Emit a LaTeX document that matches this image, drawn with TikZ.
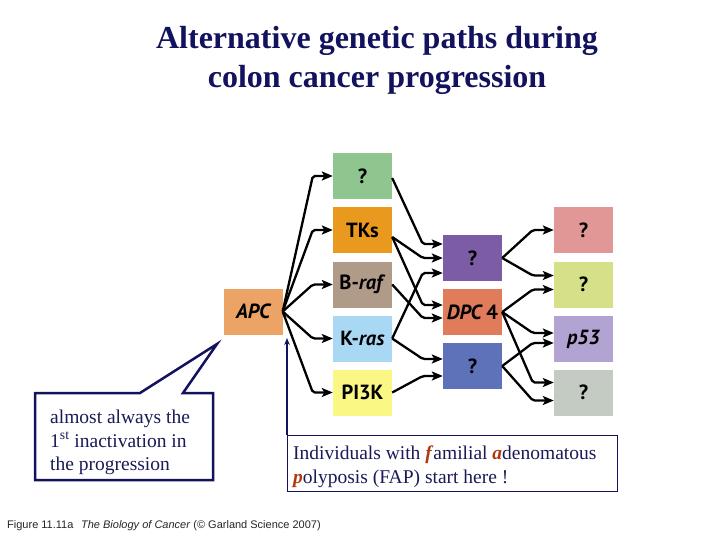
\documentclass[tikz,border=0pt]{standalone}
\usepackage{fontspec}
\setmainfont{Liberation Serif}
\newfontfamily\capfont{Liberation Sans}
\newfontfamily\boxfont{PT Sans}
\usetikzlibrary{arrows.meta}
\definecolor{navy}{HTML}{12125E}
\definecolor{txtnavy}{HTML}{1A1A58}
\definecolor{fapred}{HTML}{B0380E}
\definecolor{cAPC}{HTML}{EBA466}
\definecolor{cGreen}{HTML}{8FC58F}
\definecolor{cTKs}{HTML}{E99A1E}
\definecolor{cBraf}{HTML}{B09A88}
\definecolor{cKras}{HTML}{A9D8F5}
\definecolor{cPI}{HTML}{FBF785}
\definecolor{cPurple}{HTML}{7D5CA6}
\definecolor{cDPC}{HTML}{E07B5C}
\definecolor{cBlue}{HTML}{5E72B9}
\definecolor{cPink}{HTML}{E29797}
\definecolor{cYG}{HTML}{D5E089}
\definecolor{cpf}{HTML}{B3A3D3}
\definecolor{cGray}{HTML}{C3CBC3}
\begin{document}
\begin{tikzpicture}[x=1pt,y=-1pt,
  gbox/.style={minimum width=59pt,minimum height=46pt,inner sep=0pt,
    font=\boxfont\bfseries\fontsize{20.5}{22}\selectfont,text=black},
  arr/.style={line width=2.3pt,rounded corners=2pt,
    -{Stealth[length=11pt,width=9pt,inset=2.5pt]}},
  calltext/.style={anchor=base west,inner sep=0pt,text=txtnavy,
    font=\fontsize{19.5}{22}\selectfont},
  titletext/.style={anchor=base,inner sep=0pt,text=navy,
    font=\bfseries\fontsize{32}{36}\selectfont}]
\useasboundingbox (0,0) rectangle (720,540);
\fill[white] (0,0) rectangle (720,540);

% title
\node[titletext] (t1) at (377,49) {Alternative genetic paths during};
\node[titletext] (t2) at (377,88) {colon cancer progression};

% boxes
\node[gbox,fill=cAPC] (apc) at (253,311.5) {\itshape APC};
\node[gbox,fill=cGreen] (g1) at (362.5,176) {?};
\node[gbox,fill=cTKs] (tks) at (362.5,230) {TKs};
\node[gbox,fill=cBraf] (braf) at (362.5,284.5) {B-\textit{raf}};
\node[gbox,fill=cKras] (kras) at (362.5,338.5) {K-\textit{ras}};
\node[gbox,fill=cPI] (pi3k) at (362.5,392.5) {PI3K};
\node[gbox,fill=cPurple] (q2) at (472.5,258) {?};
\node[gbox,fill=cDPC] (dpc) at (472.5,312) {\textit{DPC}\,4};
\node[gbox,fill=cBlue] (q3) at (472.5,366) {?};
\node[gbox,fill=cPink] (q4) at (583.5,230) {?};
\node[gbox,fill=cYG] (q5) at (583.5,284.5) {?};
\node[gbox,fill=cpf] (p53) at (583.5,339) {\textit{p53}};
\node[gbox,fill=cGray] (q6) at (583.5,392.5) {?};

% APC -> column 1
\foreach \t in {g1,tks,braf,kras,pi3k}
  \draw[arr] (apc.east) -- ([xshift=-20pt]\t.west) -- (\t.west);

% column 1 -> column 2
\draw[arr] ([yshift=-2pt]g1.east) -- ([xshift=-20pt,yshift=14pt]q2.west) -- ([yshift=14pt]q2.west);
\draw[arr] ([yshift=-7pt]tks.east) -- ([xshift=-20pt]q2.west) -- (q2.west);
\draw[arr] (kras.east) -- ([xshift=-20pt,yshift=-15pt]q2.west) -- ([yshift=-15pt]q2.west);
\draw[arr] ([yshift=-7pt]tks.east) -- ([xshift=-20pt,yshift=7pt]dpc.west) -- ([yshift=7pt]dpc.west);
\draw[arr] (braf.east) -- ([xshift=-20pt,yshift=-6pt]dpc.west) -- ([yshift=-6pt]dpc.west);
\draw[arr] (kras.east) -- ([xshift=-20pt,yshift=7pt]q3.west) -- ([yshift=7pt]q3.west);
\draw[arr] (pi3k.east) -- ([xshift=-20pt,yshift=-10pt]q3.west) -- ([yshift=-10pt]q3.west);

% column 2 -> column 3
\draw[arr] (q2.east) -- ([xshift=-21pt]q4.west) -- (q4.west);
\draw[arr] (q2.east) -- ([xshift=-21pt,yshift=9pt]q5.west) -- ([yshift=9pt]q5.west);
\draw[arr] (dpc.east) -- ([xshift=-21pt,yshift=-5pt]q5.west) -- ([yshift=-5pt]q5.west);
\draw[arr] (dpc.east) -- ([xshift=-21pt,yshift=6pt]p53.west) -- ([yshift=6pt]p53.west);
\draw[arr] (dpc.east) -- ([xshift=-21pt,yshift=10pt]q6.west) -- ([yshift=10pt]q6.west);
\draw[arr] (q3.east) -- ([xshift=-21pt,yshift=-4pt]p53.west) -- ([yshift=-4pt]p53.west);
\draw[arr] (q3.east) -- ([xshift=-21pt,yshift=-8pt]q6.west) -- ([yshift=-8pt]q6.west);

% left callout
\coordinate (ctip) at (217,344);
\draw[navy,line width=2.5pt,fill=white,line join=miter]
  (35,393) -- (140,393) -- (ctip) -- (183,393) -- (213,393) -- (213,480) -- (35,480) -- cycle;
\node[calltext] (c1) at (50,423) {almost always the};
\node[calltext] (c2) at (50,447) {1\textsuperscript{st} inactivation in};
\node[calltext] (c3) at (50,470) {the progression};

% FAP box
\node[draw=navy,line width=1pt,minimum width=330pt,minimum height=56pt,
  inner sep=0pt,anchor=north west] (fap) at (287,435) {};
\coordinate (faptip) at (287,338);
\draw[navy,line width=1.5pt,-{Stealth[length=7pt,width=5.5pt]}] (fap.north west) -- (faptip);
\node[calltext] (f1) at (293,459) {Individuals with \textcolor{fapred}{\textbf{\textit{f}}}amilial \textcolor{fapred}{\textbf{\textit{a}}}denomatous};
\node[calltext] (f2) at (293,483) {\textcolor{fapred}{\textbf{\textit{p}}}olyposis (FAP) start here !};

% caption
\node[anchor=base west,inner sep=0pt,font=\capfont\fontsize{11}{13}\selectfont,text=black!85] (cap) at (7,528)
  {Figure 11.11a\hspace{0.7em}\textit{The Biology of Cancer} (© Garland Science 2007)};
\end{tikzpicture}
\end{document}
